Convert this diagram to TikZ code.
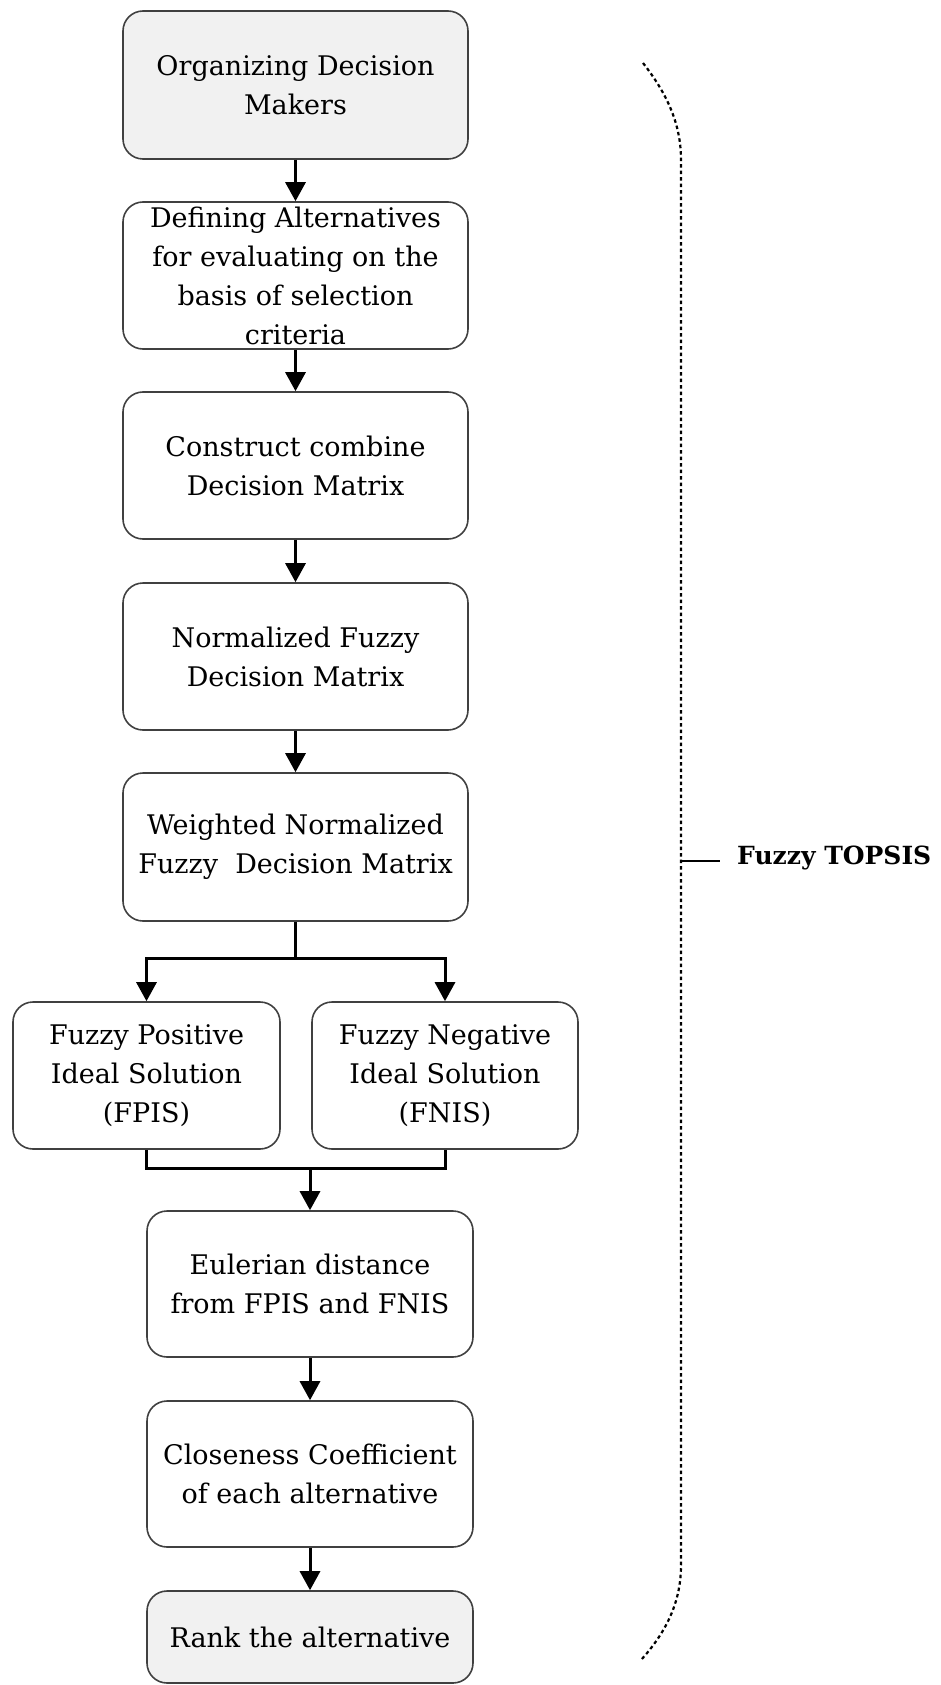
\documentclass[tikz,border=0pt]{standalone}
\usepackage{fontspec}
\setmainfont{DejaVu Serif}
\usetikzlibrary{arrows.meta}
\definecolor{edge}{HTML}{404040}
\definecolor{shade}{HTML}{F1F1F1}
\tikzset{
  box/.style={draw=edge, line width=1.6pt, rounded corners=20pt, fill=white,
    minimum width=#1, inner sep=0pt},
  box/.default=345pt,
  txt/.style={align=center, inner sep=0pt, font=\fontsize{27pt}{39pt}\selectfont},
  flow/.style={line width=3pt, -{Triangle[width=20pt,length=19pt]}},
  wire/.style={line width=3pt},
}
\begin{document}
\begin{tikzpicture}[x=1pt, y=-1pt]
\useasboundingbox (0,0) rectangle (941,1685);

% main chain
\node[box, fill=shade, minimum height=148pt,
  label={[txt]center:Organizing Decision\\Makers}] (b1) at (295.5,85) {};
\node[box, minimum height=147pt,
  label={[txt]center:Defining Alternatives\\for evaluating on the\\basis of selection\\criteria}] (b2) at (295.5,275.5) {};
\node[box, minimum height=147pt,
  label={[txt]center:Construct combine\\Decision Matrix}] (b3) at (295.5,465.5) {};
\node[box, minimum height=147pt,
  label={[txt]center:Normalized Fuzzy\\Decision Matrix}] (b4) at (295.5,656.5) {};
\node[box, minimum height=148pt,
  label={[txt]center:Weighted Normalized\\Fuzzy\ \ Decision Matrix}] (b5) at (295.5,847) {};

% ideal solutions
\node[box=267pt, minimum height=147pt,
  label={[txt]center:Fuzzy Positive\\Ideal Solution\\(FPIS)}] (fp) at (146.5,1075.5) {};
\node[box=266pt, minimum height=147pt,
  label={[txt]center:Fuzzy Negative\\Ideal Solution\\(FNIS)}] (fn) at (445,1075.5) {};

% distances and ranking
\node[box=326pt, minimum height=146pt,
  label={[txt]center:Eulerian distance\\from FPIS and FNIS}] (eu) at (310,1284) {};
\node[box=326pt, minimum height=146pt,
  label={[txt]center:Closeness Coefficient\\of each alternative}] (cc) at (310,1474) {};
\node[box=326pt, fill=shade, minimum height=92pt,
  label={[txt]center:Rank the alternative}] (rk) at (310,1637) {};

% connectors
\draw[flow] (b1) -- (b2);
\draw[flow] (b2) -- (b3);
\draw[flow] (b3) -- (b4);
\draw[flow] (b4) -- (b5);

\coordinate (split) at (295.5,958);
\draw[wire] (b5.south) -- (split);
\draw[flow] (split) -| (fp.north);
\draw[flow] (split) -| (fn.north);

\coordinate (merge) at (310,1168);
\draw[wire] (fp.south) |- (merge) -| (fn.south);
\draw[flow] (merge) -- (eu);
\draw[flow] (eu) -- (cc);
\draw[flow] (cc) -- (rk);

% dotted bracket with its label
\coordinate (bt) at (643,63);
\coordinate (bb) at (641,1660);
\coordinate (tick) at (681,861);
\draw[line width=2.2pt, dash pattern=on 3.5pt off 3pt]
  (bt) .. controls (668,95) and (681,125) .. (681,160)
  -- (681,1565) .. controls (681,1600) and (668,1630) .. (bb);
\node[anchor=west, inner sep=0pt, font=\fontsize{25pt}{30pt}\selectfont\bfseries]
  (lab) at (737,858) {Fuzzy TOPSIS};
\draw[line width=1.5pt] (tick) -- ++(39,0);
\end{tikzpicture}
\end{document}
